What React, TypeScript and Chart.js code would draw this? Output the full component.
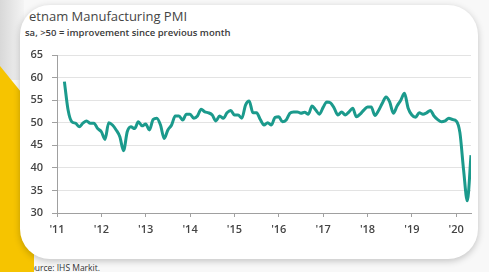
import React, { useEffect, useRef } from "react";
import { Chart, registerables } from "chart.js";

Chart.register(...registerables);

// Month index 0 = Jan 2011
const yearTicks = [0, 12, 24, 36, 48, 60, 72, 84, 96, 108];
const yearLabels = ["'11", "'12", "'13", "'14", "'15", "'16", "'17", "'18", "'19", "'20"];
const firstMonth = 2; // Mar 2011
const lastMonthAxis = 112; // May 2020
const yTickMin = 30;
const yTickMax = 65;
const yTickStep = 5;

const pmiValues = [
  // 2011 (Mar-Dec)
  59.1, 52.8, 50.2, 49.9, 49.1, 49.9, 50.4, 49.9, 49.9, 48.7,
  // 2012
  48.0, 46.3, 50.0, 49.5, 48.4, 46.9, 43.8, 48.0, 49.1, 48.7, 50.2, 49.3,
  // 2013
  49.7, 48.4, 50.7, 51.0, 49.5, 46.5, 48.4, 49.5, 51.5, 51.5, 50.6, 51.9,
  // 2014
  51.9, 51.0, 51.5, 53.0, 52.4, 52.2, 51.7, 50.4, 51.5, 51.0, 52.2, 52.7,
  // 2015
  51.7, 51.7, 51.0, 53.9, 54.8, 52.2, 52.2, 50.7, 49.5, 50.0, 49.5, 51.2,
  // 2016
  51.3, 50.2, 50.6, 52.1, 52.4, 52.4, 52.1, 52.3, 51.9, 53.7, 52.8, 51.9,
  // 2017
  53.4, 54.6, 54.4, 53.2, 51.7, 52.4, 51.7, 52.4, 53.2, 51.3, 51.9, 52.8,
  // 2018
  53.5, 53.5, 51.6, 52.7, 54.3, 55.7, 54.6, 52.1, 53.7, 55.0, 56.5, 53.2,
  // 2019
  51.7, 51.2, 52.2, 51.9, 52.2, 52.7, 51.5, 50.7, 50.2, 50.4, 51.0, 50.7,
  // 2020 (Jan-May)
  50.4, 47.8, 39.5, 32.7, 42.8,
];

const titleText = "Vietnam Manufacturing PMI";
const subtitleText = "sa, >50 = improvement since previous month";
const sourceText = "Source: IHS Markit.";

function PmiChart() {
  const ref = useRef<HTMLCanvasElement | null>(null);
  useEffect(() => {
    if (!ref.current) return;
    const points = pmiValues.map((v, i) => ({ x: firstMonth + i, y: v }));
    const chart = new Chart(ref.current, {
      type: "line",
      data: {
        datasets: [
          {
            data: points,
            borderColor: "#1b9a8c",
            borderWidth: 3,
            pointRadius: 0,
            cubicInterpolationMode: "monotone",
            fill: false,
          },
        ],
      },
      options: {
        animation: false,
        responsive: false,
        maintainAspectRatio: false,
        layout: { padding: { left: 0, right: 18, top: 55, bottom: 0 } },
        plugins: { legend: { display: false }, tooltip: { enabled: false } },
        scales: {
          x: {
            type: "linear",
            min: 0,
            max: lastMonthAxis,
            afterBuildTicks: (axis: any) => {
              axis.ticks = yearTicks.map((v) => ({ value: v }));
            },
            afterFit: (s: any) => {
              s.height = 59;
            },
            ticks: {
              autoSkip: false,
              maxRotation: 0,
              padding: 6,
              color: "#444444",
              font: { family: "'Open Sans', sans-serif", size: 11, weight: "600" },
              callback: (_v: any, i: number) => yearLabels[i],
            },
            grid: { drawOnChartArea: false, tickLength: 4, tickColor: "#a0a0a0" },
            border: { color: "#a0a0a0", width: 1 },
          },
          y: {
            min: yTickMin,
            max: yTickMax,
            afterFit: (s: any) => {
              s.width = 57;
            },
            ticks: {
              stepSize: yTickStep,
              padding: 9,
              color: "#444444",
              font: { family: "'Open Sans', sans-serif", size: 11, weight: "600" },
            },
            grid: { color: "#e3e3e3", tickLength: 5, tickColor: "#a0a0a0", lineWidth: 1 },
            border: { color: "#a0a0a0", width: 1 },
          },
        },
      },
    });
    return () => chart.destroy();
  }, []);
  return (
    <canvas
      ref={ref}
      width={489}
      height={272}
      style={{ position: "absolute", left: 0, top: 0, width: 489, height: 272, zIndex: 3 }}
    />
  );
}

export default function App() {
  return (
    <div
      style={{
        position: "fixed",
        left: 0,
        top: 0,
        width: 489,
        height: 272,
        overflow: "hidden",
        background: "#f8f8f8",
        fontFamily: "'Open Sans', sans-serif",
      }}
    >
      {/* left shadow strip */}
      <div
        style={{
          position: "absolute",
          left: 0,
          top: 0,
          width: 24,
          height: 80,
          background: "linear-gradient(to right, #d8d8d8, #f4f4f4)",
        }}
      />
      {/* source text (partly hidden by yellow shape) */}
      <div
        style={{
          position: "absolute",
          left: 25,
          top: 262,
          fontSize: 8.5,
          color: "#333",
          whiteSpace: "nowrap",
          zIndex: 0,
        }}
      >
        {sourceText}
      </div>
      {/* yellow shape */}
      <div
        style={{
          position: "absolute",
          left: 0,
          top: 0,
          width: 489,
          height: 272,
          background: "#f6c400",
          clipPath: "polygon(0px 66px, 34px 108px, 34px 272px, 0px 272px)",
          zIndex: 1,
        }}
      />
      {/* white card */}
      <div
        style={{
          position: "absolute",
          left: 20,
          top: 5,
          width: 458,
          height: 254,
          background: "#ffffff",
          borderRadius: 30,
          boxShadow: "0 2px 7px rgba(0,0,0,0.22)",
          zIndex: 2,
        }}
      />
      {/* title (left part cut off) */}
      <div
        style={{
          position: "absolute",
          left: 29,
          top: 7,
          width: 300,
          height: 20,
          overflow: "hidden",
          zIndex: 3,
        }}
      >
        <div
          style={{
            position: "absolute",
            left: -11,
            top: 0,
            fontSize: 13,
            color: "#454545",
            whiteSpace: "nowrap",
          }}
        >
          {titleText}
        </div>
      </div>
      <div
        style={{
          position: "absolute",
          left: 25,
          top: 26,
          fontSize: 9.5,
          fontWeight: 600,
          color: "#3a3a3a",
          whiteSpace: "nowrap",
          zIndex: 3,
        }}
      >
        {subtitleText}
      </div>
      <PmiChart />
    </div>
  );
}
